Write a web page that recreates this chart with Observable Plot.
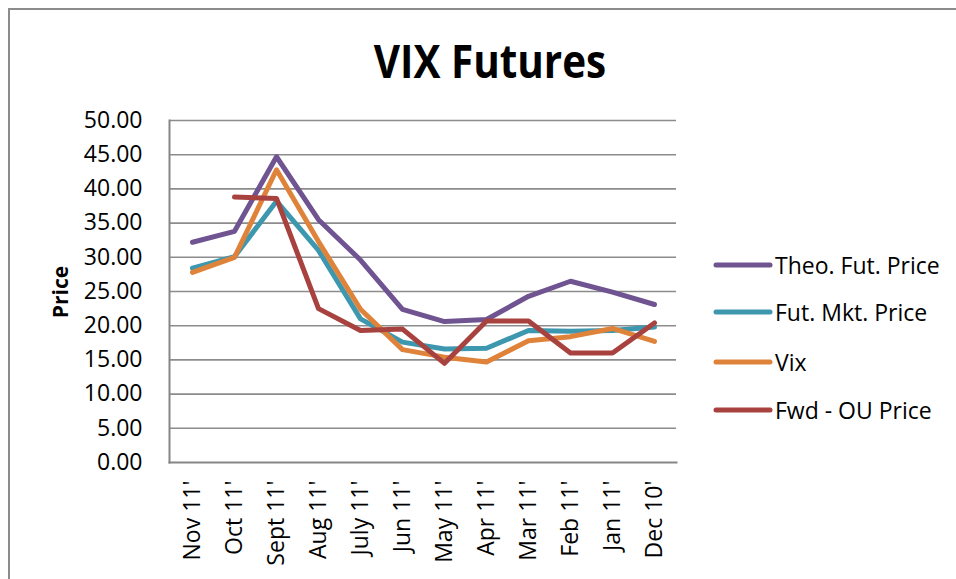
<!DOCTYPE html>
<html>
<head>
<meta charset="utf-8">
<script src="https://cdn.jsdelivr.net/npm/d3@7"></script>
<script src="https://cdn.jsdelivr.net/npm/@observablehq/plot@0.6"></script>
<style>
  html, body { margin: 0; padding: 0; background: #fff; }
  #wrap { position: relative; width: 956px; height: 579px; overflow: hidden; background: #fff; font-family: "Open Sans", sans-serif; }
  #frame { position: absolute; left: 8px; top: 8px; width: 1000px; height: 700px; border: 2px solid #8c8c8c; box-sizing: border-box; }
  #title { position: absolute; left: 490px; top: 30px; transform: translateX(-50%) scaleX(0.86); white-space: nowrap; font-family: "Open Sans", sans-serif; font-weight: bold; font-size: 47px; line-height: 60px; color: #000; }
  #ylabel { position: absolute; left: 60px; top: 292px; transform: translate(-50%, -50%) rotate(-90deg); font-weight: bold; font-size: 21px; white-space: nowrap; color: #000; }
  #chart { position: absolute; left: 0; top: 100px; }
  #legend { position: absolute; left: 713px; top: 0; }
  .item { position: absolute; left: 0; white-space: nowrap; font-size: 23px; color: #000; display: flex; align-items: center; height: 30px; }
  .item svg { margin-right: 2px; }
</style>
</head>
<body>
<div id="wrap">
  <div id="frame"></div>
  <div id="title">VIX Futures</div>
  <div id="ylabel">Price</div>
  <div id="chart"></div>
  <div id="legend"></div>
</div>
<script>
const months = ["Nov 11'", "Oct 11'", "Sept 11'", "Aug 11'", "July 11'", "Jun 11'", "May 11'", "Apr 11'", "Mar 11'", "Feb 11'", "Jan 11'", "Dec 10'"];
const theoFutPrice = [32.2, 33.8, 44.7, 35.5, 29.6, 22.4, 20.6, 20.9, 24.3, 26.5, 24.9, 23.1];
const futMktPrice  = [28.4, 30.1, 38.2, 31.0, 21.0, 17.6, 16.6, 16.7, 19.3, 19.2, 19.3, 19.8];
const vix          = [27.8, 30.0, 42.8, 32.3, 22.4, 16.5, 15.4, 14.7, 17.8, 18.4, 19.6, 17.7];
const fwdOUPrice   = [null, 38.8, 38.6, 22.5, 19.3, 19.5, 14.5, 20.7, 20.7, 16.0, 16.0, 20.4];
const seriesNames  = ["Theo. Fut. Price", "Fut. Mkt. Price", "Vix", "Fwd - OU Price"];
const seriesColors = ["#6f5491", "#3d97af", "#e0833a", "#a8423f"];
const yTicks = [0, 5, 10, 15, 20, 25, 30, 35, 40, 45, 50];

const allSeries = [theoFutPrice, futMktPrice, vix, fwdOUPrice];
const rows = [];
allSeries.forEach((vals, s) => {
  vals.forEach((v, i) => rows.push({series: seriesNames[s], month: months[i], value: v == null ? undefined : v}));
});

const lineMarks = seriesNames.map((name, s) =>
  Plot.line(rows.filter(r => r.series === name), {
    x: "month", y: "value", stroke: seriesColors[s], strokeWidth: 5,
    strokeLinejoin: "round", strokeLinecap: "round"
  })
);

const chart = Plot.plot({
  width: 690,
  height: 479,
  marginLeft: 169,
  marginRight: 14,
  marginTop: 20,
  marginBottom: 117,
  style: {fontFamily: "Open Sans, sans-serif", fontSize: "23px", color: "#000", background: "transparent", overflow: "visible"},
  x: {type: "point", domain: months, padding: 0.5},
  y: {domain: [0, 50]},
  marks: [
    Plot.ruleY(yTicks.filter(d => d > 0), {stroke: "#8c8c8c", strokeWidth: 1.6}),
    Plot.axisY({ticks: yTicks, tickSize: 0, tickPadding: 27, tickFormat: d => d.toFixed(2), label: null, fill: "#000", fontSize: 23}),
    Plot.axisX({tickSize: 0, tickPadding: 18, tickRotate: -90, label: null, fill: "#000", fontSize: 23}),
    Plot.frame({anchor: "left", stroke: "#868686", strokeWidth: 2}),
    Plot.frame({anchor: "bottom", stroke: "#868686", strokeWidth: 2}),
    ...lineMarks
  ]
});
document.getElementById("chart").appendChild(chart);

const legend = document.getElementById("legend");
const legendTops = [250, 297, 347, 395];
seriesNames.forEach((name, s) => {
  const item = document.createElement("div");
  item.className = "item";
  item.style.top = legendTops[s] + "px";
  item.innerHTML = `<svg width="60" height="10"><line x1="3" x2="57" y1="5" y2="5" stroke="${seriesColors[s]}" stroke-width="5" stroke-linecap="round"/></svg><span>${name}</span>`;
  legend.appendChild(item);
});
</script>
</body>
</html>
